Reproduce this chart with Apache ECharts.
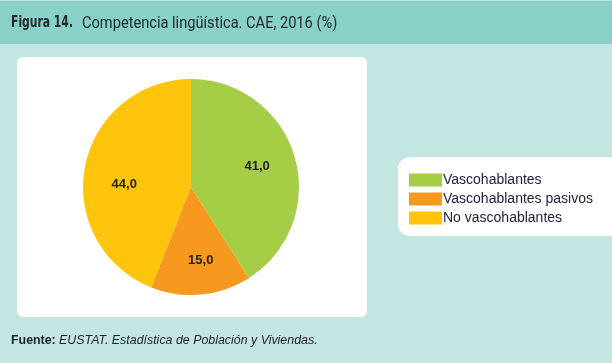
<!DOCTYPE html>
<html><head><meta charset="utf-8">
<script src="https://cdn.jsdelivr.net/npm/echarts@6/dist/echarts.min.js"></script>
<style>html,body{margin:0;padding:0;background:#c4e6e3}#c{width:612px;height:363px}</style>
</head><body><div id="c"></div>
<script>
const categories = ['Vascohablantes', 'Vascohablantes pasivos', 'No vascohablantes'];
const values = [41.0, 15.0, 44.0];
const colors = ['#a5cd46', '#f7991f', '#ffc40c'];

const chart = echarts.init(document.getElementById('c'), null, {renderer: 'canvas'});
const data = categories.map((n, i) => ({name: n, value: values[i], itemStyle: {color: colors[i]}}));
const labelOffsets = [[-3, 0], [3, 2], [4, 11]];
const fmt = p => p.value.toFixed(1).replace('.', ',');
chart.setOption({
  animation: false,
  backgroundColor: '#c4e6e3',
  graphic: [
    {type: 'rect', z: -10, shape: {x: 0, y: 1, width: 612, height: 43}, style: {fill: '#88d1c8'}},
    {type: 'rect', z: -10, shape: {x: 17, y: 57, width: 350, height: 260, r: 6}, style: {fill: '#ffffff'}},
    {type: 'rect', z: -10, shape: {x: 398, y: 157, width: 230, height: 79, r: 12}, style: {fill: '#ffffff'}},
    {type: 'text', x: 11, y: 16, scaleX: 0.8, style: {
      text: 'Figura 14.', fontFamily: 'DejaVu Sans Condensed', fontWeight: 'bold', fontSize: 15, fill: '#222a2a'
    }},
    {type: 'text', x: 82, y: 15, scaleX: 0.86, style: {
      text: 'Competencia lingüística. CAE, 2016 (%)', fontFamily: 'Roboto', fontWeight: 'normal', fontSize: 17, fill: '#222a2a'
    }},
    {type: 'text', left: 11, top: 335, style: {
      rich: {
        a: {fontFamily: 'Liberation Sans', fontWeight: 'bold', fontSize: 12.4, fill: '#1f1f2e'},
        b: {fontFamily: 'Liberation Sans', fontStyle: 'italic', fontSize: 12.4, fill: '#1f1f2e'}
      },
      text: '{a|Fuente:} {b|EUSTAT. Estadística de Población y Viviendas.}'
    }}
  ],
  legend: {
    orient: 'vertical', left: 409, top: 173, itemWidth: 33, itemHeight: 13, itemGap: 5,
    padding: 0, icon: 'rect', data: categories,
    textStyle: {fontFamily: 'Liberation Sans', fontSize: 14, color: '#1c1c3c', padding: [1, 0, 0, -4]}
  },
  series: [
    {
      type: 'pie', center: [191, 187], radius: 108, startAngle: 90, clockwise: true,
      data: data, label: {show: false}, labelLine: {show: false}, silent: true
    },
    {
      type: 'pie', center: [191, 187], radius: [30, 108], startAngle: 90, clockwise: true,
      data: categories.map((n, i) => ({name: n + ' ', value: values[i], label: {offset: labelOffsets[i]}})),
      itemStyle: {color: 'rgba(0,0,0,0)'}, silent: true, legendHoverLink: false,
      label: {show: true, position: 'inside', formatter: fmt, fontFamily: 'Liberation Sans',
        fontWeight: 'bold', fontSize: 13, color: '#231f20'},
      labelLine: {show: false}
    }
  ]
});
</script></body></html>
